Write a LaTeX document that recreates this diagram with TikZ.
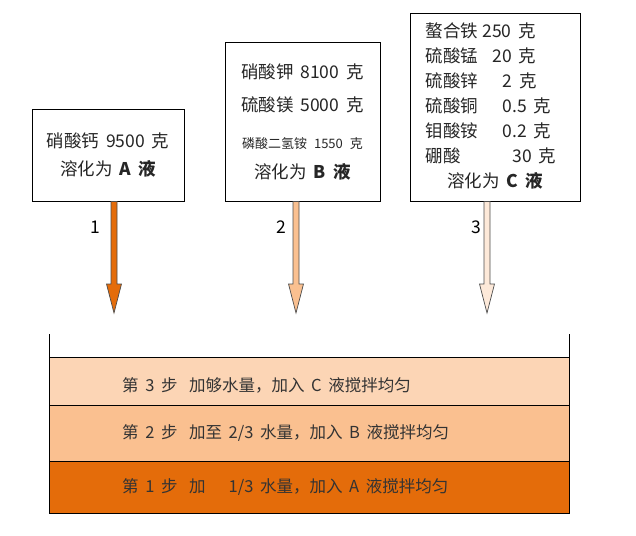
\documentclass[tikz,border=0pt]{standalone}
\usepackage{fontspec}
\setmainfont{Noto Sans CJK SC}
\usetikzlibrary{calc}

\definecolor{deeporange}{HTML}{E46C0A}
\definecolor{midorange}{HTML}{FAC090}
\definecolor{lightorange}{HTML}{FCD5B5}
\definecolor{paleorange}{HTML}{FDE9D9}

\newcommand{\dose}[3]{\makebox[57pt][l]{#1}\hspace{#2}#3 克}
\newcommand{\feedarrow}[3]{%
	\filldraw[feed,fill=#3] ($(#1.south -| #2)+(-3,0)$) -- ($(#2)+(-3,-29)$) -- ($(#2)+(-7.5,-29)$) -- (#2)
		-- ($(#2)+(7.5,-29)$) -- ($(#2)+(3,-29)$) -- ($(#1.south -| #2)+(3,0)$) -- cycle;}

\begin{document}
\begin{tikzpicture}[x=1pt,y=-1pt,
	box/.style={draw=black,line width=0.8pt,fill=white,inner sep=0pt,align=center,text=black!85,
		font=\fontsize{17.5}{25}\selectfont,execute at begin node={\spaceskip=.4em\relax}},
	feed/.style={draw=black!70,line width=0.7pt,line join=miter},
	band/.style={draw=black,line width=0.8pt},
	steptext/.style={anchor=west,inner sep=0pt,text=black!80,
		font=\fontsize{16.5}{20}\selectfont,execute at begin node={\spaceskip=.4em\relax}},
	num/.style={inner sep=0pt,font=\fontsize{17.5}{20}\selectfont}]
	
	\useasboundingbox (0,0) rectangle (636,535);
	
	\node[box,minimum width=152,minimum height=92] (solA) at (108,155)
		{硝酸钙 9500 克\\[3pt]溶化为 \textbf{A 液}};
	\node[box,minimum width=155,minimum height=159] (solB) at (302.5,121.5)
		{硝酸钾 8100 克\\[8pt]硫酸镁 5000 克\\[12pt]{\fontsize{13}{25}\selectfont 磷酸二氢铵 1550 克}\\[5pt]溶化为 \textbf{B 液}};
	\node[box,minimum width=170,minimum height=188] (solC) at (495,107)
		{\raisebox{-4pt}{\begin{tabular}{@{}l@{\hspace{8pt}}}
			\dose{螯合铁}{0pt}{250}\\
			\dose{硫酸锰}{10pt}{20}\\
			\dose{硫酸锌}{20pt}{2}\\
			\dose{硫酸铜}{20pt}{0.5}\\
			\dose{钼酸铵}{20pt}{0.2}\\
			\dose{硼酸}{30pt}{30}\\
			\multicolumn{1}{@{}c@{}}{溶化为 \textbf{C 液}}
		\end{tabular}}};
	
	\coordinate (tipA) at (114,313);
	\coordinate (tipB) at (296,313);
	\coordinate (tipC) at (487,313);
	\feedarrow{solA}{tipA}{deeporange}
	\feedarrow{solB}{tipB}{midorange}
	\feedarrow{solC}{tipC}{paleorange}
	
	\node[num] (num1) at (95,227) {1};
	\node[num] (num2) at (281,227) {2};
	\node[num] (num3) at (476,227) {3};
	
	\filldraw[band,fill=lightorange] (49,357) rectangle (569,405);
	\filldraw[band,fill=midorange] (49,405) rectangle (569,461);
	\filldraw[band,fill=deeporange] (49,461) rectangle (569,513);
	\draw[band] (49,334) -- (49,513) -- (569,513) -- (569,334);
	
	\node[steptext] (step3) at (122,385) {第 3 步\hspace{.7em}加够水量，加入 C 液搅拌均匀};
	\node[steptext] (step2) at (122,433) {第 2 步\hspace{.7em}加至 2/3 水量，加入 B 液搅拌均匀};
	\node[steptext] (step1) at (122,487) {第 1 步\hspace{.7em}加\hspace{1.4em}1/3 水量，加入 A 液搅拌均匀};
	
\end{tikzpicture}
\end{document}
